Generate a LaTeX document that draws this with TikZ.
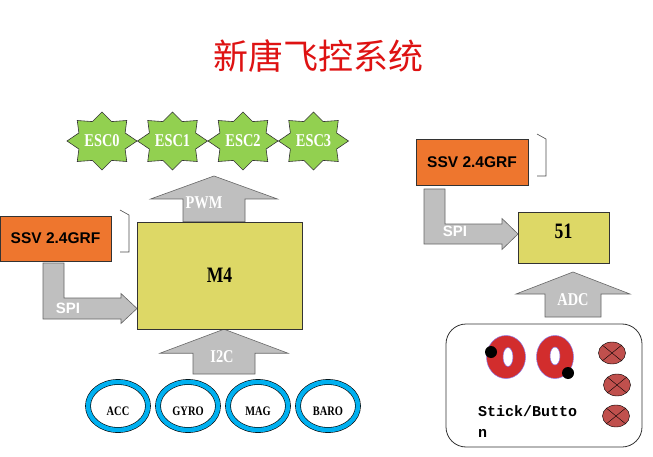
\documentclass[tikz,border=0pt]{standalone}
\usepackage{fontspec}
\setmainfont{Liberation Serif}
\newfontfamily\cjk{Noto Sans CJK SC}
\newfontfamily\narrowserif[FakeStretch=0.8]{Liberation Serif}
\newfontfamily\arialfont{Liberation Sans}
\newfontfamily\typefont{Liberation Mono}
\usetikzlibrary{shapes.geometric,calc,backgrounds}
\definecolor{titlered}{RGB}{222,18,18}
\definecolor{escgreen}{RGB}{146,208,80}
\definecolor{mcuyellow}{RGB}{221,216,102}
\definecolor{rforange}{RGB}{238,118,46}
\definecolor{ringcyan}{RGB}{0,176,240}
\definecolor{stickred}{RGB}{210,45,45}
\definecolor{stickrim}{RGB}{140,120,230}
\definecolor{btnbrown}{RGB}{192,80,77}
\tikzset{
  escstar/.style={draw=black!80, line width=0.6pt, fill=escgreen},
  esclabel/.style={text=white, inner sep=0pt, font=\narrowserif\bfseries\fontsize{18}{18}\selectfont},
  mcubox/.style={draw=black!80, fill=mcuyellow, font=\narrowserif\bfseries\fontsize{22}{22}\selectfont},
  rfbox/.style={draw=black!80, fill=rforange, minimum width=111pt, minimum height=45pt,
    font=\arialfont\bfseries\fontsize{15.5}{15.5}\selectfont},
  sensor/.style={ellipse, draw=black, line width=0.6pt, double=ringcyan, double distance=4.5pt,
    fill=white, minimum width=60pt, minimum height=48pt, inner sep=0pt, text height=18pt, text depth=0pt,
    font=\narrowserif\bfseries\fontsize{13}{13}\selectfont},
  blockarrow/.style={draw=black!60, line width=0.6pt, fill=gray!50},
  buslabel/.style={text=white, font=\narrowserif\bfseries\fontsize{18}{18}\selectfont},
  spilabel/.style={text=white, font=\arialfont\bfseries\fontsize{15}{15}\selectfont},
  button/.style={ellipse, draw=black, fill=btnbrown, minimum width=27pt, minimum height=22pt, inner sep=0pt,
    path picture={\draw (path picture bounding box.north west) -- (path picture bounding box.south east)
      (path picture bounding box.south west) -- (path picture bounding box.north east);}},
  rfbracket/.style={draw=black!70, line width=0.6pt}
}
% up block arrow: base, tip, half shaft, half head, head length
\newcommand\blockup[5]{%
  \draw[blockarrow] let \p1=(#1), \p2=(#2) in
    (\x2-#3,\y1) -- (\x2-#3,\y2-#5) -- (\x2-#4,\y2-#5) -- (\x2,\y2)
    -- (\x2+#4,\y2-#5) -- (\x2+#3,\y2-#5) -- (\x2+#3,\y1) -- cycle;}
% down-then-right block arrow: start, tip, half shaft v, half shaft h, half head, head length
\newcommand\blockturn[6]{%
  \draw[blockarrow] let \p1=(#1), \p2=(#2) in
    (\x1-#3,\y1) -- (\x1-#3,\y2-#4) -- (\x2-#6,\y2-#4) -- (\x2-#6,\y2-#5) -- (\x2,\y2)
    -- (\x2-#6,\y2+#5) -- (\x2-#6,\y2+#4) -- (\x1+#3,\y2+#4) -- (\x1+#3,\y1) -- cycle;}
\begin{document}
\begin{tikzpicture}[x=1pt,y=-1pt]
\useasboundingbox (0,0) rectangle (653,457);
\node[text=titlered, font=\cjk\fontsize{35}{35}\selectfont] (title) at (318,56) {新唐飞控系统};
% flight controller side
\foreach \i in {0,...,3}{
  \coordinate (escc\i) at (102+70.5*\i,141);
  \draw[escstar] ($(escc\i)+(0:35pt and 29pt)$)
    \foreach \a in {0,45,...,315}{ -- ($(escc\i)+(\a:35pt and 29pt)$) -- ($(escc\i)+(\a+22.5:25pt and 21pt)$)} -- cycle;
  \node[esclabel] (esc\i) at (escc\i) {ESC\i};
}
\node[mcubox, minimum width=165pt, minimum height=107pt] (m4) at (219.5,275.5) {M4};
\node[rfbox] (ssvl) at (55.5,238.5) {SSV 2.4GRF};
\draw[rfbracket] (120,210) -- (129,215) -- (129,252) -- (120,252);
\foreach \name/\lab [count=\i from 0] in {acc/ACC,gyro/GYRO,mag/MAG,baro/BARO}
  \node[sensor] (\name) at (118+70*\i,406) {\lab};
\coordinate (pwmtip) at (214,176);
\coordinate (i2cbase) at (224,374);
\coordinate (i2ctip) at (m4.south -| i2cbase);
\coordinate (spilstart) at (53.5,263);
\coordinate (spiltip) at (137,308.5);
% remote side
\node[rfbox, minimum width=112pt, minimum height=46pt] (ssvr) at (472,162) {SSV 2.4GRF};
\draw[rfbracket] (537,134) -- (546,139) -- (546,176) -- (537,176);
\node[mcubox, minimum width=91pt, minimum height=51pt, text depth=12pt] (mcu) at (563.5,237.5) {51};
\coordinate (spirstart) at (434.5,189);
\coordinate (spirtip) at (518,234);
\coordinate (adcbase) at (573,317);
\coordinate (adctip) at (573,272);
\begin{scope}[on background layer]
  \blockup{m4.north}{pwmtip}{31pt}{63.5pt}{23pt}
  \blockup{i2cbase}{i2ctip}{31pt}{64pt}{24pt}
  \blockup{adcbase}{adctip}{28pt}{57pt}{22pt}
  \blockturn{spilstart}{spiltip}{10.5pt}{10.5pt}{15pt}{16pt}
  \blockturn{spirstart}{spirtip}{10.5pt}{10pt}{15.5pt}{16pt}
\end{scope}
\node[buslabel] (pwmlabel) at (204,203) {PWM};
\node[buslabel] (i2clabel) at (222,357) {I2C};
\node[buslabel] (adclabel) at (573,300) {ADC};
\node[spilabel] (spillabel) at (68,308) {SPI};
\node[spilabel] (spirlabel) at (455,231) {SPI};
% stick panel
\node[draw=black!80, line width=0.8pt, rounded corners=20pt, minimum width=196pt, minimum height=123pt] (panel) at (544,385.5) {};
\fill[stickred, even odd rule, draw=stickrim, line width=0.5pt]
  (506,357) ellipse [x radius=19.5pt, y radius=21.5pt] (508,357) ellipse [x radius=5pt, y radius=9.5pt];
\fill[stickred, even odd rule, draw=stickrim, line width=0.5pt]
  (555,357) ellipse [x radius=18.5pt, y radius=21.5pt] (555,356) ellipse [x radius=5pt, y radius=9pt];
\fill (491,352) circle [radius=6pt];
\fill (568,373) circle [radius=6pt];
\node[button] (btn1) at (612,353) {};
\node[button] (btn2) at (617,385) {};
\node[button] (btn3) at (616,416) {};
\node[anchor=north west, align=left, inner sep=0pt, font=\typefont\bfseries\fontsize{15}{21}\selectfont] (sticklabel) at (478,405) {Stick/Butto\\n};
\end{tikzpicture}
\end{document}
